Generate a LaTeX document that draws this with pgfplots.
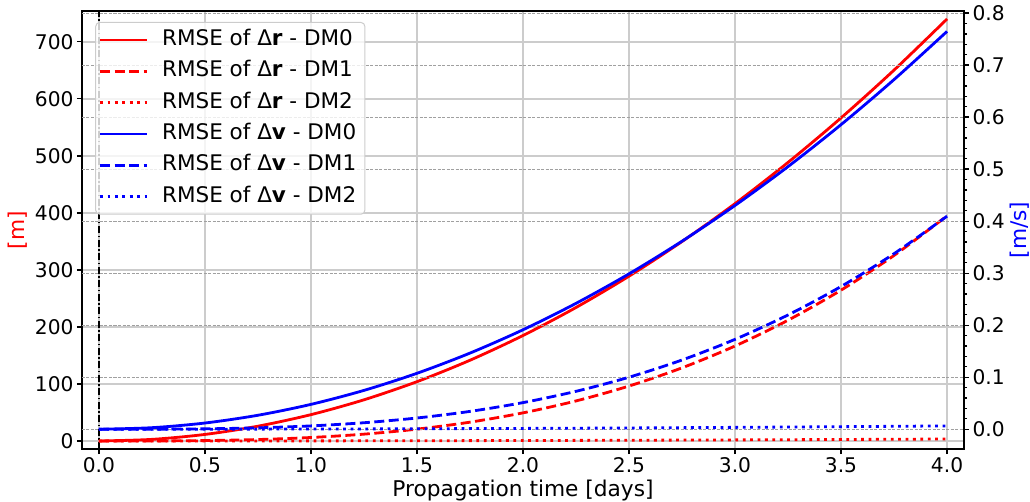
\documentclass[border=0pt]{standalone}
\usepackage{fontspec}
\setmainfont{DejaVu Sans}
\usepackage{pgfplots}
\usepackage{pgfplotstable}
\pgfplotsset{compat=1.18}
\definecolor{gridgray}{RGB}{204,204,204}
\definecolor{dgridgray}{RGB}{160,160,160}
\definecolor{mred}{RGB}{255,0,0}
\definecolor{mblue}{RGB}{0,0,255}

\pgfplotstableread{
t     r0      r1      r2     v0       v1      v2
0.00  0.00    0.000   0.000  0.00000  0.0000  0.000000
0.25  2.89    0.096   0.014  0.00299  0.0001  0.000025
0.50  11.56   0.771   0.055  0.01195  0.0008  0.000100
0.75  26.02   2.603   0.124  0.02689  0.0027  0.000225
1.00  46.25   6.170   0.220  0.04780  0.0064  0.000400
1.25  72.27   12.05   0.344  0.07469  0.0125  0.000625
1.50  104.06  20.82   0.495  0.10755  0.0216  0.000900
1.75  141.64  33.07   0.674  0.14639  0.0343  0.001225
2.00  185.00  49.36   0.880  0.19120  0.0512  0.001600
2.25  234.14  70.28   1.114  0.24199  0.0729  0.002025
2.50  289.06  96.41   1.375  0.29875  0.1000  0.002500
2.75  349.77  128.32  1.664  0.36149  0.1331  0.003025
3.00  416.25  166.59  1.980  0.43020  0.1728  0.003600
3.25  488.52  211.80  2.324  0.50489  0.2197  0.004225
3.50  566.56  264.54  2.695  0.58555  0.2744  0.004900
3.75  650.39  325.37  3.094  0.67219  0.3375  0.005625
4.00  740.00  394.88  3.520  0.76480  0.4096  0.006400
}\datatable

\tikzset{
  mplsolid/.style={line width=2.8pt, solid},
  mpldashed/.style={line width=2.8pt, dash pattern=on 10pt off 4.5pt},
  mpldotted/.style={line width=2.8pt, dash pattern=on 2.8pt off 4.6pt},
}

\begin{document}
\begin{tikzpicture}[font=\fontsize{21.7}{26}\selectfont]
\begin{axis}[
  name=main,
  scale only axis, width=882pt, height=438pt,
  xmin=-0.08, xmax=4.08, ymin=-14, ymax=754,
  xtick={0,0.5,1,1.5,2,2.5,3,3.5,4},
  ytick={0,100,200,300,400,500,600,700},
  xticklabel style={/pgf/number format/.cd, fixed, fixed zerofill, precision=1},
  /pgf/number format/assume math mode=true,
  xtick pos=bottom, ytick pos=left,
  tick align=outside, major tick length=5pt,
  every tick/.style={black, line width=1.3pt},
  grid=major, major grid style={gridgray, line width=1.6pt},
  axis line style={black, line width=1.5pt},
  ylabel={[m]},
  ylabel style={mred, at={(rel axis cs:0,0.5)}, anchor=center, yshift=64.5pt},
  xlabel={Propagation time [days]},
  xlabel style={at={(rel axis cs:0.5,0)}, anchor=base, yshift=-47pt},
  every tick label/.append style={font=\fontsize{20.2}{24}\selectfont},
]
\addplot[black, line width=1.5pt, dash pattern=on 7pt off 2.5pt on 1.5pt off 2.5pt] coordinates {(0,-14) (0,754)};
\addplot[mred, mplsolid, smooth] table[x=t, y=r0] {\datatable};
\addplot[mred, mpldashed, smooth] table[x=t, y=r1] {\datatable};
\addplot[mred, mpldotted, smooth] table[x=t, y=r2] {\datatable};
\end{axis}
\begin{axis}[
  scale only axis, width=882pt, height=438pt,
  xmin=-0.08, xmax=4.08, ymin=-0.038, ymax=0.804,
  axis x line=none, axis y line*=right,
  y axis line style={-, black, line width=1.5pt},
  ytick={0,0.1,0.2,0.3,0.4,0.5,0.6,0.7,0.8},
  minor y tick num=4,
  yticklabel style={/pgf/number format/.cd, fixed, fixed zerofill, precision=1},
  /pgf/number format/assume math mode=true,
  tick align=outside, major tick length=5pt, minor tick length=3pt,
  every tick/.style={black, line width=1.3pt},
  ymajorgrids, major grid style={dgridgray, line width=0.8pt, dash pattern=on 3pt off 1.5pt},
  ylabel={[m/s]},
  ylabel style={mblue, at={(rel axis cs:1,0.5)}, anchor=center, yshift=-55.5pt},
  every tick label/.append style={font=\fontsize{20.2}{24}\selectfont},
  legend cell align=left,
  legend image code/.code={\draw[#1, line width=2.8pt, line cap=butt] (0pt,0pt) -- (47pt,0pt);},
  legend style={at={(0.015,0.975)}, anchor=north west, draw=gridgray, line width=1pt,
    rounded corners=4pt, fill=white, fill opacity=0.8, text opacity=1,
    font=\fontsize{21.5}{26}\selectfont, row sep=0pt, column sep=8pt,
    nodes={inner sep=5.65pt, text height=15.5pt, text depth=4.5pt}},
]
\addlegendimage{mred, mplsolid}
\addlegendentry{RMSE of Δ\textbf{r} - DM0}
\addlegendimage{mred, mpldashed}
\addlegendentry{RMSE of Δ\textbf{r} - DM1}
\addlegendimage{mred, mpldotted}
\addlegendentry{RMSE of Δ\textbf{r} - DM2}
\addplot[mblue, mplsolid, smooth] table[x=t, y=v0] {\datatable};
\addlegendentry{RMSE of Δ\textbf{v} - DM0}
\addplot[mblue, mpldashed, smooth] table[x=t, y=v1] {\datatable};
\addlegendentry{RMSE of Δ\textbf{v} - DM1}
\addplot[mblue, mpldotted, smooth] table[x=t, y=v2] {\datatable};
\addlegendentry{RMSE of Δ\textbf{v} - DM2}
\end{axis}
\pgfresetboundingbox
\useasboundingbox ([shift={(-82pt,-52pt)}]main.south west) rectangle ([shift={(66pt,11pt)}]main.north east);
\end{tikzpicture}
\end{document}
